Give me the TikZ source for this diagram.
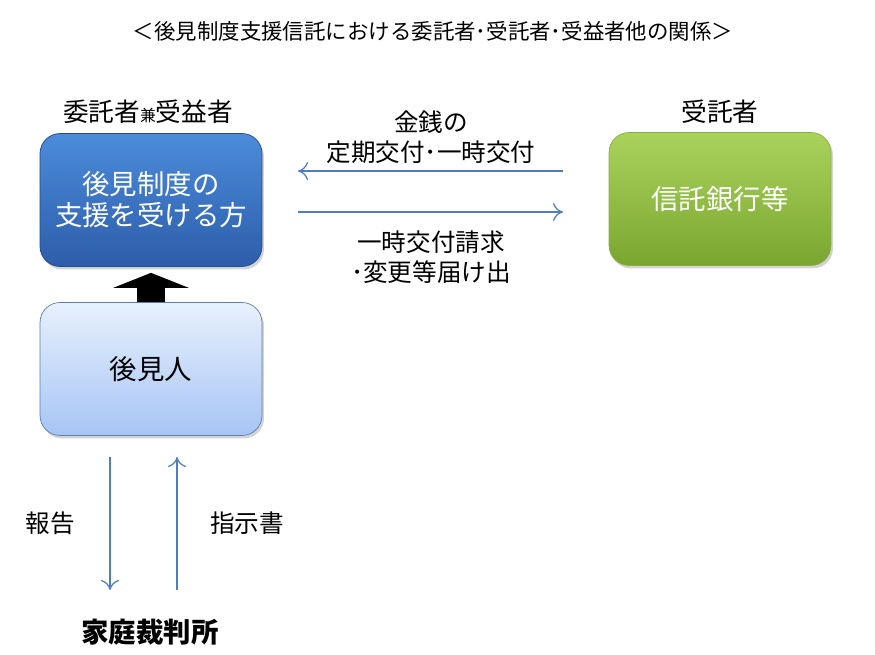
\documentclass[tikz,border=0pt]{standalone}
\usepackage{fontspec}
\setmainfont{Noto Sans CJK JP}
\usepackage{tikz}
\usetikzlibrary{arrows.meta,shadows}
\definecolor{bluetop}{HTML}{4C8CDA}
\definecolor{bluebot}{HTML}{2C5DAA}
\definecolor{greentop}{HTML}{AAD35C}
\definecolor{greenbot}{HTML}{7AA630}
\definecolor{palettop}{HTML}{E8F0FD}
\definecolor{palebot}{HTML}{A6C5F5}
\definecolor{flowblue}{HTML}{4F7FB8}
\tikzstyle{major}=[rectangle, rounded corners=0.4cm, minimum width=4.44cm, minimum height=2.66cm, inner sep=0pt, align=center, font=\fontsize{15.6pt}{17.5pt}\selectfont, drop shadow={opacity=0.35, shadow xshift=0.04cm, shadow yshift=-0.06cm}]
\tikzstyle{trust} = [major, top color=bluetop, bottom color=bluebot, draw=bluebot!80!black, text=white]
\tikzstyle{bank} = [major, top color=greentop, bottom color=greenbot, draw=greenbot!90!white, text=white]
\tikzstyle{guard} = [major, top color=palettop, bottom color=palebot, draw=flowblue!80!gray, text=black]
\tikzstyle{label} = [inner sep=0pt, align=center, font=\fontsize{14pt}{17pt}\selectfont]
\tikzstyle{edge} = [draw, line width=.25mm, flowblue, -{To[length=0.2cm, width=0.36cm]}]

\begin{document}
\begin{tikzpicture}[x=0.02cm, y=-0.02cm]

				\useasboundingbox (0,0) rectangle (875,655);

				\node[inner sep=0pt, font=\fontsize{12.2pt}{14pt}\selectfont] (t_1) at (433, 31) {＜後見制度支援信託における委託者･受託者･受益者他の関係＞};

				\node[trust] (b_1) at (151, 200) {後見制度の\\支援を受ける方};
				\node[guard] (b_2) at (151, 369) {後見人};
				\node[bank] (b_3) at (720, 199) {信託銀行等};

				\node[label, font=\fontsize{14.6pt}{17pt}\selectfont] (l_1) at (148, 112) {委託者{\fontsize{9pt}{9pt}\selectfont 兼}受益者};
				\node[label, font=\fontsize{14.6pt}{17pt}\selectfont] (l_2) at (720, 112) {受託者};
				\node[label] (l_3) at (431, 137) {金銭の\\定期交付･一時交付};
				\node[label] (l_4) at (431, 257) {一時交付請求\\･変更等届け出};
				\node[label] (l_5) at (50, 523) {報告};
				\node[label] (l_6) at (247, 523) {指示書};
				\node[inner sep=0pt, font=\fontsize{15.6pt}{18pt}\selectfont\bfseries] (c_1) at (150, 632) {家庭裁判所};

				\coordinate (a_1) at (563, 171);
				\coordinate (a_2) at (298, 171);
				\coordinate (a_3) at (298, 212);
				\coordinate (a_4) at (563, 212);
				\coordinate (a_5) at (110, 457);
				\coordinate (a_6) at (110, 590);
				\coordinate (a_7) at (177, 590);
				\coordinate (a_8) at (177, 457);

				\draw[edge] (a_1) -- (a_2);
				\draw[edge] (a_3) -- (a_4);
				\draw[edge] (a_5) -- (a_6);
				\draw[edge] (a_7) -- (a_8);
				\draw[line width=0.56cm, shorten >=0.12cm, -{Triangle[width=1.5cm, length=0.3cm]}] (b_2.north) -- (b_1.south);
			\end{tikzpicture}
\end{document}
